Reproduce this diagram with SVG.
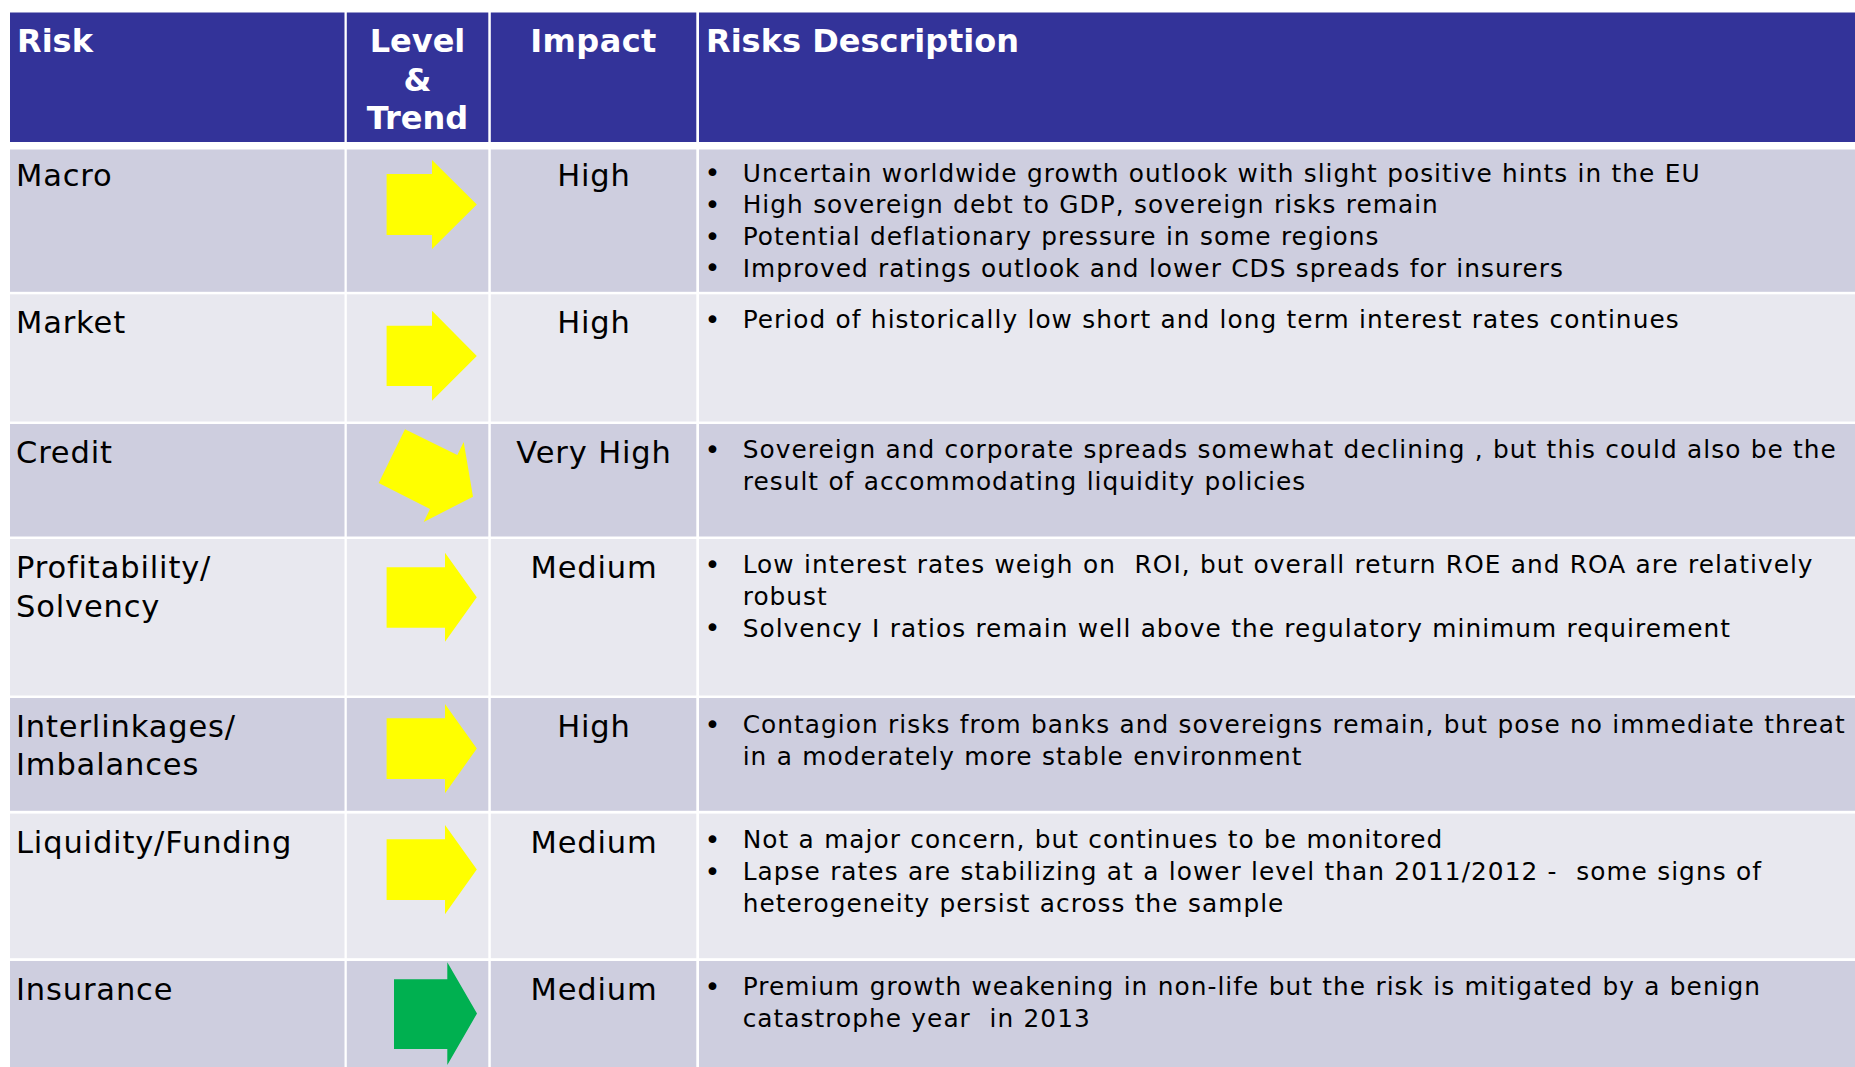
<svg xmlns="http://www.w3.org/2000/svg" width="1855" height="1067" viewBox="0 0 1855 1067">
  <style>
    .hd { fill: #333399; }
    .dk { fill: #CECEDF; }
    .lt { fill: #E8E8EF; }
    .ht { font-family: "DejaVu Sans", Verdana, sans-serif; font-weight: bold; font-size: 32px; fill: #FFFFFF; }
    .ct { font-family: "DejaVu Sans", Verdana, sans-serif; font-size: 30.5px; letter-spacing: 0.85px; fill: #000000; }
    .dt { font-family: "DejaVu Sans", Verdana, sans-serif; font-size: 24.8px; letter-spacing: 1.04px; word-spacing: 0.4px; fill: #000000; white-space: pre; }
    .bl { font-family: "DejaVu Sans", Verdana, sans-serif; font-size: 27px; fill: #000000; }
    .mid { text-anchor: middle; }
    .ya { fill: #FFFF00; }
    .ga { fill: #00B050; }
  </style>
  <rect x="0" y="0" width="1855" height="1067" fill="#FFFFFF"/>

  <g id="header">
    <rect class="hd" x="10" y="12.5" width="334.5" height="129.5"/>
    <rect class="hd" x="346.8" y="12.5" width="141.5" height="129.5"/>
    <rect class="hd" x="490.8" y="12.5" width="205.5" height="129.5"/>
    <rect class="hd" x="699" y="12.5" width="1156" height="129.5"/>
    <text class="ht" x="17" y="52">Risk</text>
    <text class="ht mid" x="417.5" y="52">Level</text>
    <text class="ht mid" x="417.5" y="90.5">&amp;</text>
    <text class="ht mid" x="417.5" y="128.5">Trend</text>
    <text class="ht mid" x="593.5" y="52" style="letter-spacing:0.4px">Impact</text>
    <text class="ht" x="706" y="52">Risks Description</text>
  </g>

  <g id="row-macro">
    <rect class="dk" x="10" y="149.5" width="334.5" height="142.3"/>
    <rect class="dk" x="346.8" y="149.5" width="141.5" height="142.3"/>
    <rect class="dk" x="490.8" y="149.5" width="205.5" height="142.3"/>
    <rect class="dk" x="699" y="149.5" width="1156" height="142.3"/>
    <text class="ct" x="16" y="186">Macro</text>
    <polygon class="ya" points="386.6,174 432,174 432,160 476.8,204.5 432,249 432,235 386.6,235"/>
    <text class="ct mid" x="594" y="186">High</text>
    <text class="bl" x="704.5" y="182.2">•</text>
    <text class="dt" x="742.7" y="181.7">Uncertain worldwide growth outlook with slight positive hints in the EU</text>
    <text class="bl" x="704.5" y="213.9">•</text>
    <text class="dt" x="742.7" y="213.4">High sovereign debt to GDP, sovereign risks remain</text>
    <text class="bl" x="704.5" y="245.6">•</text>
    <text class="dt" x="742.7" y="245.1">Potential deflationary pressure in some regions</text>
    <text class="bl" x="704.5" y="277.3">•</text>
    <text class="dt" x="742.7" y="276.8">Improved ratings outlook and lower CDS spreads for insurers</text>
  </g>

  <g id="row-market">
    <rect class="lt" x="10" y="294.3" width="334.5" height="127.2"/>
    <rect class="lt" x="346.8" y="294.3" width="141.5" height="127.2"/>
    <rect class="lt" x="490.8" y="294.3" width="205.5" height="127.2"/>
    <rect class="lt" x="699" y="294.3" width="1156" height="127.2"/>
    <text class="ct" x="16" y="333">Market</text>
    <polygon class="ya" points="386.6,325.7 432,325.7 432,310.7 476.8,356 432,400.7 432,386 386.6,386"/>
    <text class="ct mid" x="594" y="333">High</text>
    <text class="bl" x="704.5" y="328.8">•</text>
    <text class="dt" x="742.7" y="328.3">Period of historically low short and long term interest rates continues</text>
  </g>

  <g id="row-credit">
    <rect class="dk" x="10" y="424" width="334.5" height="112.5"/>
    <rect class="dk" x="346.8" y="424" width="141.5" height="112.5"/>
    <rect class="dk" x="490.8" y="424" width="205.5" height="112.5"/>
    <rect class="dk" x="699" y="424" width="1156" height="112.5"/>
    <text class="ct" x="16" y="463.3">Credit</text>
    <polygon class="ya" points="405,429.3 457.3,455 463.7,442 473,496.7 423.7,522 430,509 378.7,483"/>
    <text class="ct mid" x="594" y="463.3">Very High</text>
    <text class="bl" x="704.5" y="458.8">•</text>
    <text class="dt" x="742.7" y="458.3">Sovereign and corporate spreads somewhat declining , but this could also be the</text>
    <text class="dt" x="742.7" y="490">result of accommodating liquidity policies</text>
  </g>

  <g id="row-profitability">
    <rect class="lt" x="10" y="539" width="334.5" height="156.5"/>
    <rect class="lt" x="346.8" y="539" width="141.5" height="156.5"/>
    <rect class="lt" x="490.8" y="539" width="205.5" height="156.5"/>
    <rect class="lt" x="699" y="539" width="1156" height="156.5"/>
    <text class="ct" x="16" y="577.7">Profitability/</text>
    <text class="ct" x="16" y="617.3">Solvency</text>
    <polygon class="ya" points="386.6,567.3 445,567.3 445,552.7 476.8,597.3 445,641.7 445,627.7 386.6,627.7"/>
    <text class="ct mid" x="594" y="577.7">Medium</text>
    <text class="bl" x="704.5" y="573.8">•</text>
    <text class="dt" x="742.7" y="573.3">Low interest rates weigh on  ROI, but overall return ROE and ROA are relatively</text>
    <text class="dt" x="742.7" y="605">robust</text>
    <text class="bl" x="704.5" y="637.2">•</text>
    <text class="dt" x="742.7" y="636.7">Solvency I ratios remain well above the regulatory minimum requirement</text>
  </g>

  <g id="row-interlinkages">
    <rect class="dk" x="10" y="698" width="334.5" height="112.8"/>
    <rect class="dk" x="346.8" y="698" width="141.5" height="112.8"/>
    <rect class="dk" x="490.8" y="698" width="205.5" height="112.8"/>
    <rect class="dk" x="699" y="698" width="1156" height="112.8"/>
    <text class="ct" x="16" y="736.7">Interlinkages/</text>
    <text class="ct" x="16" y="775.3">Imbalances</text>
    <polygon class="ya" points="386.6,718.3 445,718.3 445,704 476.8,748.5 445,793.3 445,779 386.6,779"/>
    <text class="ct mid" x="594" y="736.7">High</text>
    <text class="bl" x="704.5" y="733.8">•</text>
    <text class="dt" x="742.7" y="733.3">Contagion risks from banks and sovereigns remain, but pose no immediate threat</text>
    <text class="dt" x="742.7" y="764.5">in a moderately more stable environment</text>
  </g>

  <g id="row-liquidity">
    <rect class="lt" x="10" y="813.6" width="334.5" height="144.6"/>
    <rect class="lt" x="346.8" y="813.6" width="141.5" height="144.6"/>
    <rect class="lt" x="490.8" y="813.6" width="205.5" height="144.6"/>
    <rect class="lt" x="699" y="813.6" width="1156" height="144.6"/>
    <text class="ct" x="16" y="852.7">Liquidity/Funding</text>
    <polygon class="ya" points="386.6,839.3 445,839.3 445,825 476.8,869.5 445,914.3 445,900 386.6,900"/>
    <text class="ct mid" x="594" y="852.7">Medium</text>
    <text class="bl" x="704.5" y="848.8">•</text>
    <text class="dt" x="742.7" y="848.3">Not a major concern, but continues to be monitored</text>
    <text class="bl" x="704.5" y="880.5">•</text>
    <text class="dt" x="742.7" y="880">Lapse rates are stabilizing at a lower level than 2011/2012 -  some signs of</text>
    <text class="dt" x="742.7" y="911.7">heterogeneity persist across the sample</text>
  </g>

  <g id="row-insurance">
    <rect class="dk" x="10" y="961" width="334.5" height="110"/>
    <rect class="dk" x="346.8" y="961" width="141.5" height="110"/>
    <rect class="dk" x="490.8" y="961" width="205.5" height="110"/>
    <rect class="dk" x="699" y="961" width="1156" height="110"/>
    <text class="ct" x="16" y="1000">Insurance</text>
    <polygon class="ga" points="394,979.3 447.3,979.3 447.3,962.3 477,1013.5 447.3,1065 447.3,1049 394,1049"/>
    <text class="ct mid" x="594" y="1000">Medium</text>
    <text class="bl" x="704.5" y="995.5">•</text>
    <text class="dt" x="742.7" y="995">Premium growth weakening in non-life but the risk is mitigated by a benign</text>
    <text class="dt" x="742.7" y="1026.7">catastrophe year  in 2013</text>
  </g>

  <g id="connectors"></g>
</svg>
